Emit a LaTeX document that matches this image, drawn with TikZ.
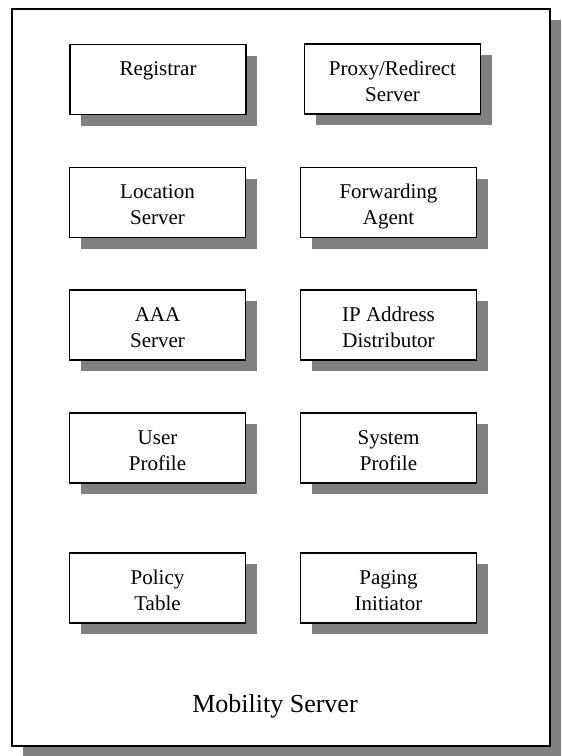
\documentclass[tikz,border=0pt]{standalone}
\usepackage{fontspec}
\setmainfont{Liberation Serif}
\usetikzlibrary{shadows}
\definecolor{shadowgray}{RGB}{128,128,128}
\tikzset{
  sh/.style={drop shadow={shadow xshift=11pt, shadow yshift=-11pt, fill=shadowgray, opacity=1}},
  outerbox/.style={draw=black, line width=2pt, fill=white, sh},
  unitbox/.style={draw=black, line width=1.6pt, fill=white, minimum width=176pt, minimum height=70pt, inner sep=0pt, sh},
  unittext/.style={align=center, font=\fontsize{21}{26}\selectfont, inner sep=0pt},
  titletext/.style={font=\fontsize{26}{30}\selectfont, inner sep=0pt, anchor=base}
}
\begin{document}
\begin{tikzpicture}[x=1pt, y=-1pt]
\useasboundingbox (0,0) rectangle (562,756);
\node[outerbox, minimum width=538pt, minimum height=737pt, inner sep=0pt] (outer) at (281,377.5) {};
% row 1
\node[unitbox] (reg) at (158,79.5) {};
\node[unittext] (regt) at ([yshift=-4pt]reg.center) {\strut Registrar\\\strut};
\node[unitbox] (prx) at (392.5,79) {};
\node[unittext] (prxt) at ([yshift=-4pt]prx.center) {\strut Proxy/Redirect\\\strut Server};
% row 2
\node[unitbox] (loc) at (157.5,202.5) {};
\node[unittext] (loct) at ([yshift=-4pt]loc.center) {\strut Location\\\strut Server};
\node[unitbox] (fwd) at (388.5,202.5) {};
\node[unittext] (fwdt) at ([yshift=-4pt]fwd.center) {\strut Forwarding\\\strut Agent};
% row 3
\node[unitbox] (aaa) at (157.5,325) {};
\node[unittext] (aaat) at ([yshift=-4pt]aaa.center) {\strut AAA\\\strut Server};
\node[unitbox] (ipd) at (388.5,325) {};
\node[unittext] (ipdt) at ([yshift=-4pt]ipd.center) {\strut IP Address\\\strut Distributor};
% row 4
\node[unitbox] (usr) at (157.5,448) {};
\node[unittext] (usrt) at ([yshift=-4pt]usr.center) {\strut User\\\strut Profile};
\node[unitbox] (sys) at (388.5,448) {};
\node[unittext] (syst) at ([yshift=-4pt]sys.center) {\strut System\\\strut Profile};
% row 5
\node[unitbox] (pol) at (157.5,588) {};
\node[unittext] (polt) at ([yshift=-4pt]pol.center) {\strut Policy\\\strut Table};
\node[unitbox] (pag) at (388.5,588) {};
\node[unittext] (pagt) at ([yshift=-4pt]pag.center) {\strut Paging\\\strut Initiator};
% title
\node[titletext] (title) at (275,712) {Mobility Server};
\end{tikzpicture}
\end{document}
